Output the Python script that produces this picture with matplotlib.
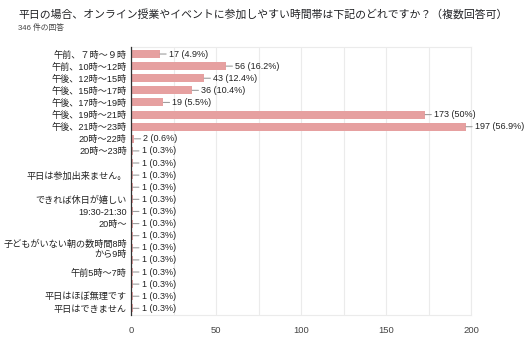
import matplotlib
matplotlib.use("Agg")
import matplotlib.pyplot as plt

plt.rcParams['font.family'] = ['Liberation Sans', 'Noto Sans CJK JP', 'DejaVu Sans']

title = "平日の場合、オンライン授業やイベントに参加しやすい時間帯は下記のどれですか？（複数回答可）"
subtitle = "346 件の回答"

labels = ["午前、７時～９時", "午前、10時～12時", "午後、12時～15時", "午後、15時～17時",
          "午後、17時～19時", "午後、19時～21時", "午後、21時～23時", "20時～22時",
          "20時～23時", "", "平日は参加出来ません。", "", "できれば休日が嬉しい",
          "19:30-21:30", "20時～", "", "子どもがいない朝の数時間8時\nから9時", "",
          "午前5時～7時", "", "平日はほぼ無理です", "平日はできません"]
counts = [17, 56, 43, 36, 19, 173, 197, 2,
          1, 1, 1, 1, 1, 1, 1, 1, 1, 1, 1, 1, 1, 1]
percents = ["4.9%", "16.2%", "12.4%", "10.4%", "5.5%", "50%", "56.9%", "0.6%",
            "0.3%", "0.3%", "0.3%", "0.3%", "0.3%", "0.3%", "0.3%", "0.3%",
            "0.3%", "0.3%", "0.3%", "0.3%", "0.3%", "0.3%"]
xticks = [0, 50, 100, 150, 200]

fig = plt.figure(figsize=(5.24, 3.44), dpi=100)
ax = fig.add_axes([131/524, 1-315/344, 340/524, 268/344])

ypos = list(range(len(labels)))
ax.barh(ypos, counts, height=0.66, color='#e6a0a0', zorder=2)

# value labels with leader line
for y, c, p in zip(ypos, counts, percents):
    ax.annotate("{} ({})".format(c, p), xy=(c, y), xytext=(9, 0),
                textcoords='offset pixels', va='center', ha='left',
                fontsize=6.5, color='#222222',
                arrowprops=dict(arrowstyle='-', color='#9e9e9e', lw=0.8,
                                shrinkA=0, shrinkB=0))

ax.set_xlim(0, 200)
ax.set_ylim(len(labels) - 0.45, -0.58)
ax.set_yticks(ypos)
ax.set_yticklabels(labels, fontsize=6.6, color='#222222', linespacing=1.1)
ax.set_xticks(xticks)
ax.set_xticklabels([str(t) for t in xticks], fontsize=6.8, color='#444444')
ax.set_xticks(range(25, 200, 50), minor=True)
ax.tick_params(axis='both', which='both', length=0)
ax.tick_params(axis='x', pad=8)
ax.tick_params(axis='y', pad=3)
ax.grid(axis='x', which='both', color='#ebebeb', lw=0.8, zorder=0)

for s in ['top', 'right', 'bottom']:
    ax.spines[s].set_color('#ebebeb')
    ax.spines[s].set_linewidth(0.8)
ax.spines['left'].set_color('#333333')
ax.spines['left'].set_linewidth(0.9)
ax.spines['left'].set_zorder(3)

fig.text(18/524, 1-14/344, title, fontsize=7.8, color='#202124', va='center', ha='left')
fig.text(18/524, 1-28/344, subtitle, fontsize=5.6, color='#444444', va='center', ha='left')

fig.savefig("out.png", dpi=100)
